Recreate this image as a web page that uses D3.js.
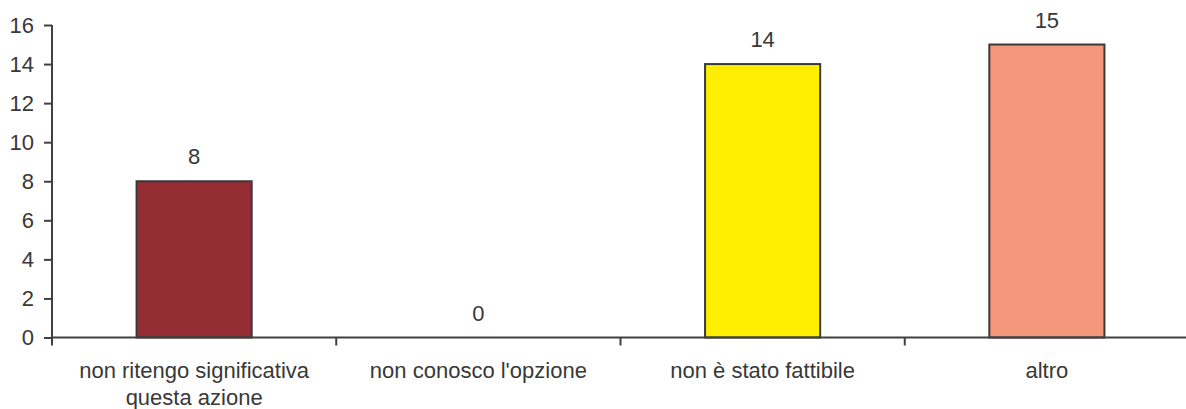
<!DOCTYPE html>
<html>
<head>
<meta charset="utf-8">
<script src="https://cdn.jsdelivr.net/npm/d3@7"></script>
<style>
  html, body { margin: 0; padding: 0; background: #fff; }
  svg { display: block; }
  text { font-family: "Liberation Sans", Arial, Helvetica, sans-serif; fill: #383838; }
</style>
</head>
<body>
<svg id="chart" width="1186" height="409"></svg>
<script>
// Responses per reason
const categories = [
  "non ritengo significativa questa azione",
  "non conosco l'opzione",
  "non è stato fattibile",
  "altro"
];
const values = [8, 0, 14, 15];
const barColors = ["#952d35", "#ffffff", "#ffee00", "#f4977a"];
const yTicks = [0, 2, 4, 6, 8, 10, 12, 14, 16];
// category labels split over lines
const labelLines = [
  ["non ritengo significativa", "questa azione"],
  ["non conosco l'opzione"],
  ["non è stato fattibile"],
  ["altro"]
];

const W = 1186, H = 409;
const plotLeft = 52, plotRight = 1189, plotTop = 25, plotBottom = 337.5;
const fontSize = 22;
const axisColor = "#404040";

const svg = d3.select("#chart");

const x = d3.scaleBand().domain(categories).range([plotLeft, plotRight]).paddingInner(0).paddingOuter(0);
const y = d3.scaleLinear().domain([0, 16]).range([plotBottom, plotTop]);

const barW = x.bandwidth() * 0.405;

// bars
svg.append("g").selectAll("rect")
  .data(values.map((v, i) => ({ v, c: categories[i], col: barColors[i] })).filter(d => d.v > 0))
  .join("rect")
  .attr("x", d => x(d.c) + x.bandwidth() / 2 - barW / 2)
  .attr("y", d => y(d.v))
  .attr("width", barW)
  .attr("height", d => y(0) - y(d.v))
  .attr("fill", d => d.col)
  .attr("stroke", "#3a3a3a")
  .attr("stroke-width", 2);

// value labels
svg.append("g").selectAll("text")
  .data(values.map((v, i) => ({ v, c: categories[i] })))
  .join("text")
  .attr("x", d => x(d.c) + x.bandwidth() / 2)
  .attr("y", d => y(d.v) - 17)
  .attr("text-anchor", "middle")
  .style("font-size", fontSize + "px")
  .text(d => d.v);

// y axis
const yAxis = svg.append("g")
  .attr("transform", `translate(${plotLeft},0)`)
  .call(d3.axisLeft(y).tickValues(yTicks).tickSize(8).tickPadding(10).tickFormat(d3.format("d")));
yAxis.select(".domain").remove();
yAxis.selectAll(".tick line").attr("stroke", axisColor).attr("stroke-width", 2);
yAxis.selectAll(".tick text")
  .style("font-size", fontSize + "px")
  .style("font-family", "'Liberation Sans', Arial, sans-serif")
  .attr("fill", "#383838");
svg.append("line")
  .attr("x1", plotLeft).attr("x2", plotLeft)
  .attr("y1", y(16)).attr("y2", plotBottom + 8)
  .attr("stroke", axisColor).attr("stroke-width", 2);

// x axis baseline
svg.append("line")
  .attr("x1", plotLeft).attr("x2", W)
  .attr("y1", y(0)).attr("y2", y(0))
  .attr("stroke", axisColor).attr("stroke-width", 2);

// category boundary ticks
svg.append("g").selectAll("line")
  .data(categories.slice(1))
  .join("line")
  .attr("x1", d => x(d)).attr("x2", d => x(d))
  .attr("y1", y(0)).attr("y2", y(0) + 8)
  .attr("stroke", axisColor).attr("stroke-width", 2);

// category labels
const lab = svg.append("g").selectAll("text")
  .data(categories.map((c, i) => ({ c, lines: labelLines[i] })))
  .join("text")
  .attr("x", d => x(d.c) + x.bandwidth() / 2)
  .attr("y", 378)
  .attr("text-anchor", "middle")
  .style("font-size", fontSize + "px");
lab.selectAll("tspan")
  .data(d => d.lines.map(t => ({ t, cx: x(d.c) + x.bandwidth() / 2 })))
  .join("tspan")
  .attr("x", d => d.cx)
  .attr("dy", (d, i) => i === 0 ? 0 : 27)
  .text(d => d.t);
</script>
</body>
</html>
